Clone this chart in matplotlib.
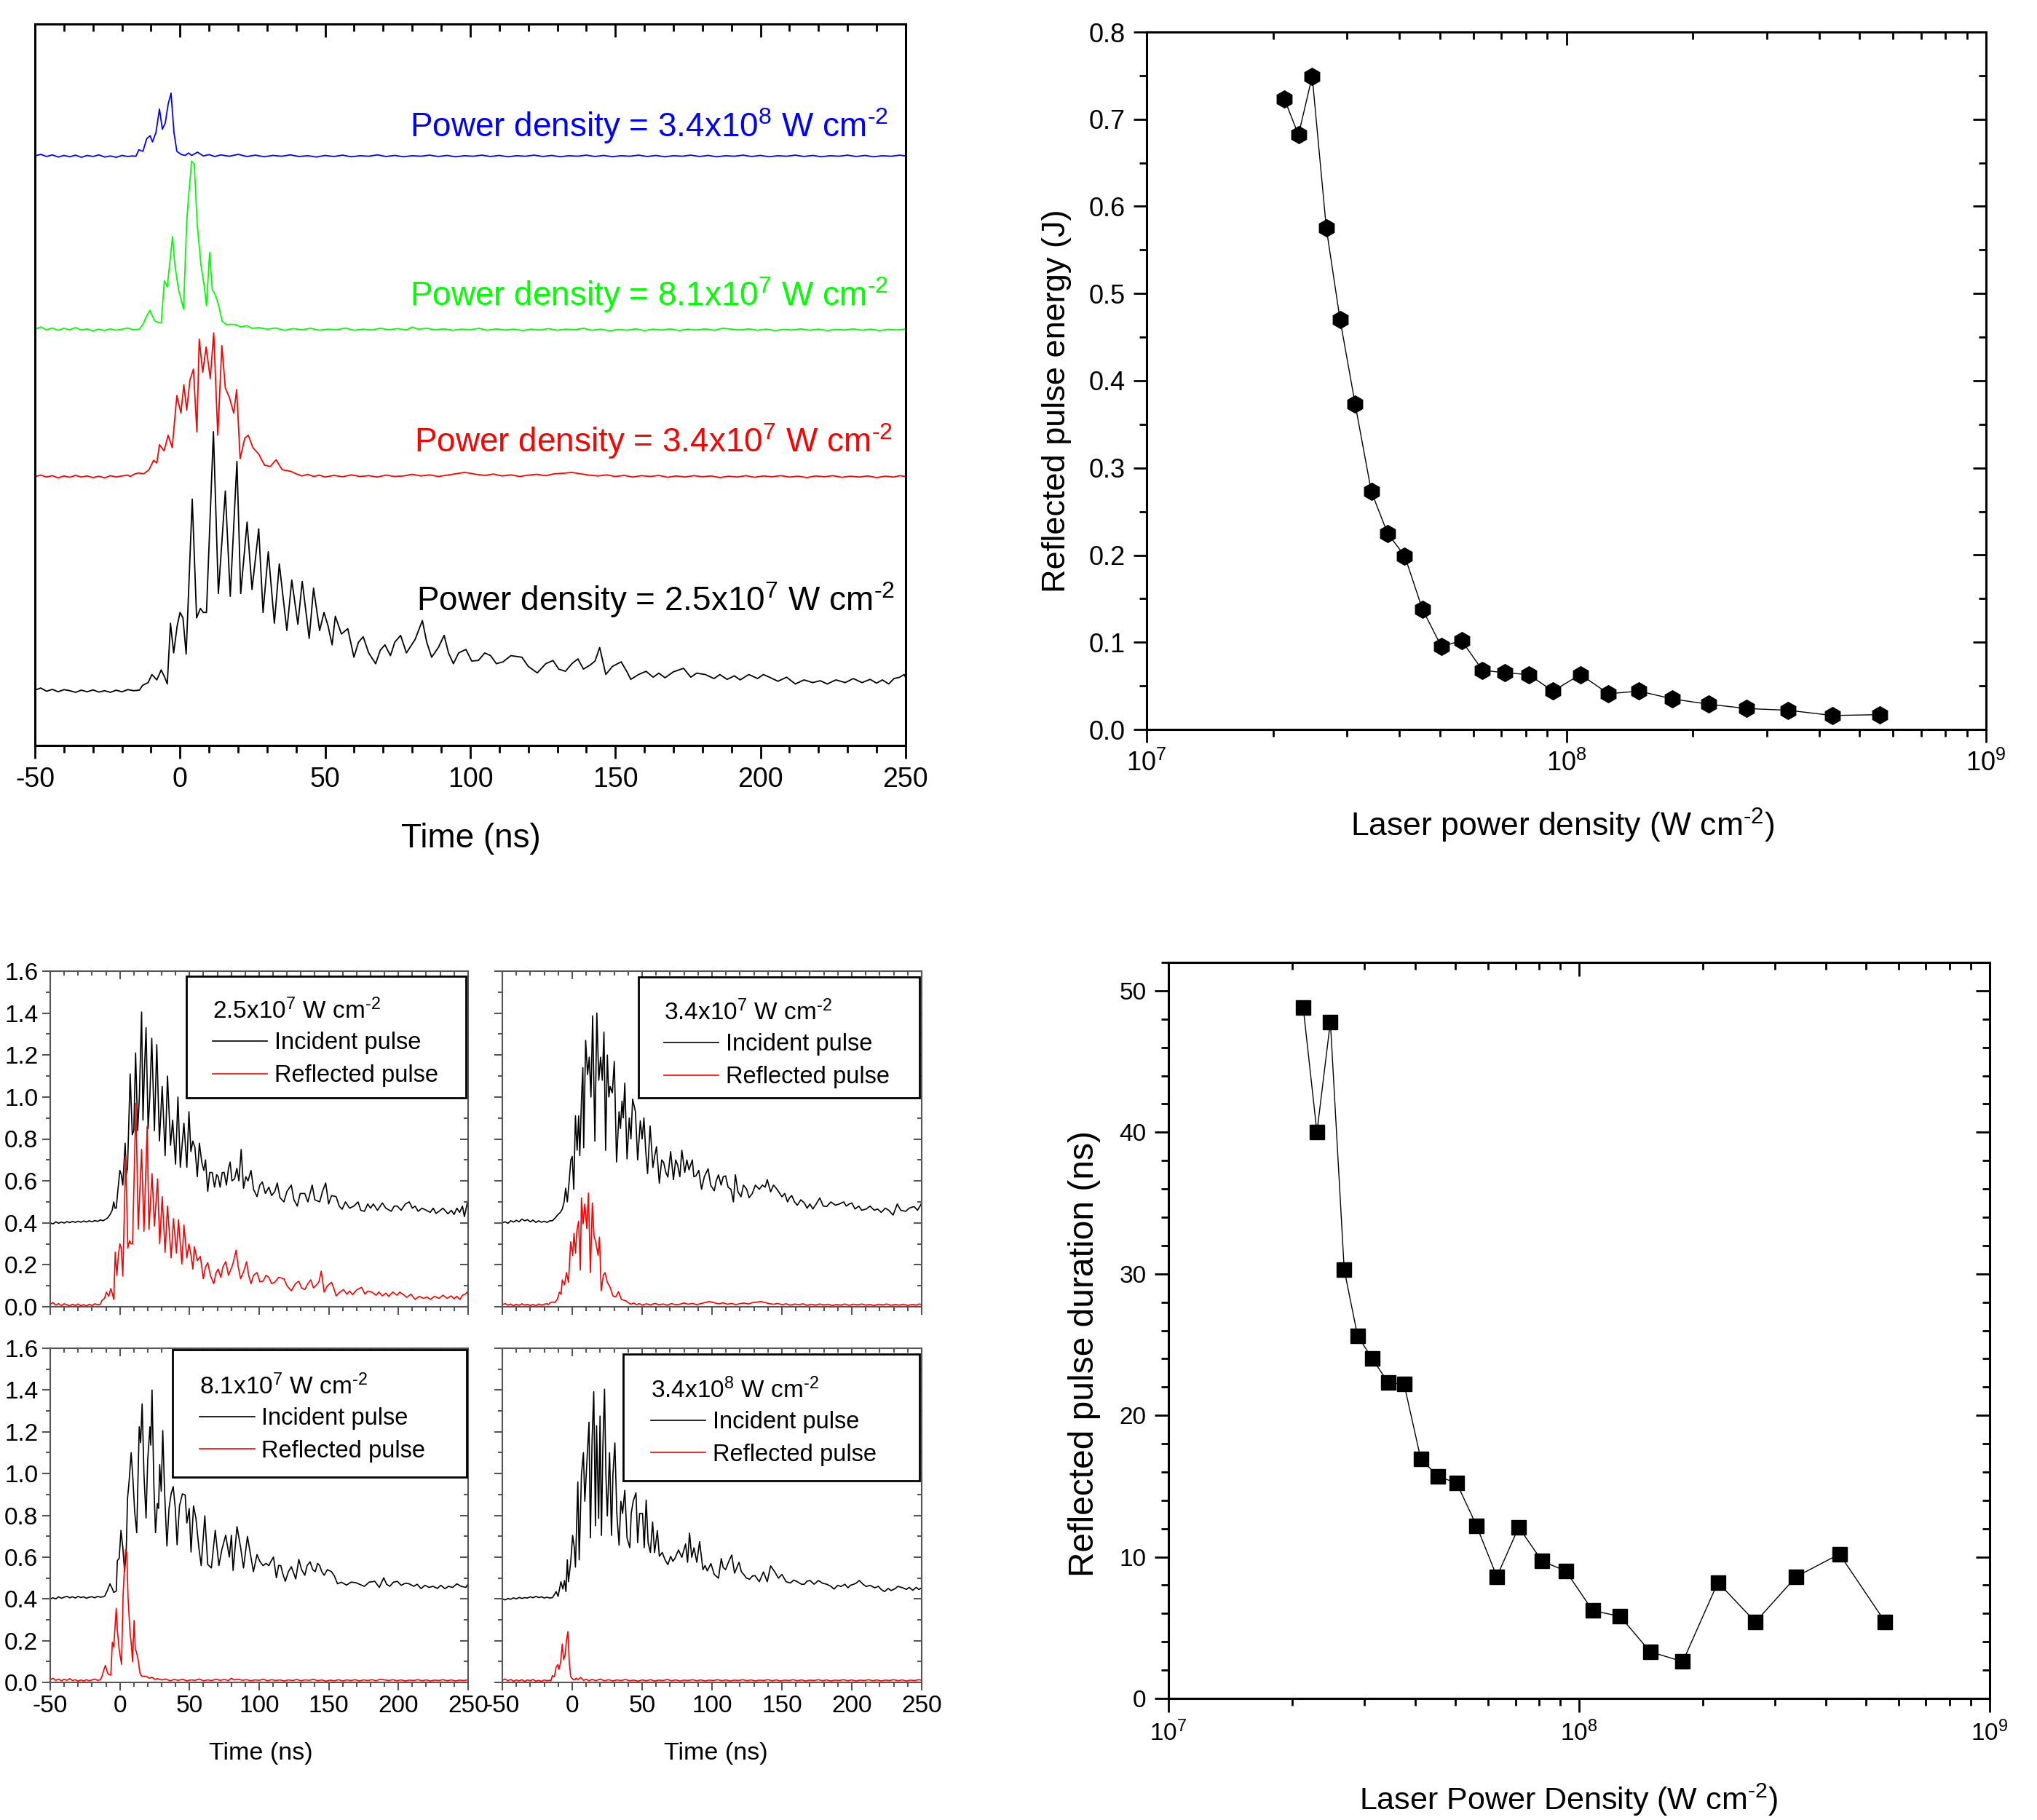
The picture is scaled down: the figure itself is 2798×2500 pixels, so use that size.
import matplotlib
matplotlib.use('Agg')
import matplotlib.pyplot as plt
from matplotlib.patches import Rectangle
from matplotlib.ticker import MultipleLocator, FormatStrFormatter, LogLocator, NullFormatter

plt.rcParams['font.family'] = ['Liberation Sans', 'DejaVu Sans']
plt.rcParams['mathtext.fontset'] = 'custom'
plt.rcParams['mathtext.rm'] = 'Liberation Sans'
plt.rcParams['mathtext.it'] = 'Liberation Sans:italic'
plt.rcParams['mathtext.bf'] = 'Liberation Sans:bold'
plt.rcParams['mathtext.default'] = 'regular'
plt.rcParams['axes.unicode_minus'] = False

# ---------------- data: right-hand panels ----------------
POWER_DENSITY = [2.13e7, 2.30e7, 2.48e7, 2.68e7, 2.89e7, 3.14e7, 3.43e7, 3.75e7, 4.12e7,
                 4.54e7, 5.04e7, 5.63e7, 6.31e7, 7.13e7, 8.13e7, 9.29e7, 1.08e8, 1.26e8,
                 1.49e8, 1.79e8, 2.18e8, 2.69e8, 3.38e8, 4.31e8, 5.57e8]
REFLECTED_ENERGY = [0.723, 0.682, 0.749, 0.575, 0.470, 0.373, 0.273, 0.225, 0.199, 0.138,
                    0.095, 0.102, 0.068, 0.065, 0.063, 0.044, 0.063, 0.041, 0.044, 0.035,
                    0.029, 0.024, 0.022, 0.016, 0.017]
REFLECTED_DURATION = [48.8, 40.0, 47.8, 30.3, 25.6, 24.0, 22.3, 22.2, 16.9, 15.7, 15.2, 12.2,
                      8.6, 12.1, 9.7, 9.0, 6.2, 5.8, 3.3, 2.6, 8.2, 5.4, 8.6, 10.2, 5.4]

# ---------------- data: pulse waveforms (time ns, signal) ----------------
P1_INC = [(-50,0.40),(-48,0.395),(-46,0.405),(-44,0.398),(-42,0.404),(-40,0.399),(-38,0.406),(-36,0.401),
(-34,0.407),(-32,0.402),(-30,0.408),(-28,0.403),(-26,0.409),(-24,0.404),(-22,0.41),(-20,0.405),(-18,0.411),
(-16,0.407),(-14,0.414),(-12,0.41),(-10,0.418),(-8.6,0.425),(-7,0.44),(-5.5,0.46),(-4.4,0.50),(-3.5,0.47),
(-2.6,0.47),(-1.5,0.55),(0,0.65),(1,0.63),(2.1,0.58),(3.8,0.78),(4.6,0.63),(5.5,0.66),(7.4,1.11),(8.9,0.82),
(10,0.84),(11.3,1.21),(12.8,0.84),(14,1.0),(15.6,1.405),(16.6,0.89),(17.5,1.1),(18.8,1.33),(20.3,0.85),
(21.5,1.0),(22.9,1.28),(24.8,0.84),(25.5,1.0),(26.5,1.25),(28.4,0.79),(30.4,1.05),(32.5,0.72),(34.2,1.10),
(36.4,0.77),(37.9,0.89),(40,0.68),(41.7,1.00),(43.4,0.665),(46,0.875),(48.1,0.665),(49.6,0.93),(51,0.74),
(52.4,0.79),(53.9,0.76),(55.6,0.62),(57.1,0.78),(58.8,0.69),(60.3,0.65),(61.5,0.70),(63.1,0.55),(64.5,0.64),
(66.3,0.64),(68,0.57),(69.5,0.63),(70.6,0.62),(72,0.57),(73.5,0.64),(74.9,0.64),(76.5,0.58),(78,0.66),
(79.2,0.69),(80.5,0.60),(82.4,0.61),(84,0.66),(85.5,0.60),(87.1,0.75),(88.8,0.565),(90.5,0.62),(92,0.60),
(94.2,0.65),(96,0.56),(98.5,0.525),(100.5,0.58),(102.3,0.595),(104.5,0.54),(107,0.57),(109,0.53),(111.3,0.55),
(113,0.59),(115,0.52),(117.8,0.50),(120,0.55),(123.1,0.58),(125,0.51),(127.4,0.48),(129.5,0.54),(132.8,0.54),
(135,0.50),(138.1,0.58),(140,0.51),(143.5,0.50),(145.5,0.55),(147.8,0.59),(149.9,0.49),(152,0.53),(155.3,0.525),
(157.5,0.48),(159.6,0.465),(162,0.50),(165,0.47),(168.1,0.48),(171,0.50),(173,0.46),(175.6,0.455),(178,0.49),
(180,0.47),(182,0.49),(185,0.46),(188.5,0.495),(191,0.47),(194.9,0.455),(197,0.48),(199.2,0.48),(202,0.46),
(205,0.49),(207.8,0.50),(210,0.47),(212,0.48),(214.2,0.455),(217,0.47),(220,0.46),(222.8,0.45),(225,0.47),
(227,0.445),(229.2,0.455),(232,0.47),(235.6,0.443),(238,0.46),(240,0.44),(242,0.47),(244,0.45),(246,0.48),
(247.4,0.43),(249.5,0.495),(250,0.48)]

P1_REF = [(-50,0.012),(-48,0.02),(-46,0.008),(-44,0.015),(-42,0.006),(-40,0.014),(-38,0.01),(-36,0.004),
(-34,0.012),(-32,0.006),(-30,0.013),(-28,0.005),(-26,0.01),(-24,0.004),(-22,0.012),(-20,0.006),(-18,0.014),
(-16,0.01),(-14,0.012),(-12.9,0.03),(-11,0.04),(-9.7,0.07),(-8,0.05),(-6.5,0.087),(-5.3,0.06),(-4.4,0.035),
(-3.3,0.26),(-2.2,0.15),(-1,0.25),(0,0.30),(1,0.28),(2.1,0.146),(4.2,0.72),(5.7,0.28),(7,0.315),(8,0.30),
(9.1,0.30),(11.5,0.97),(13.2,0.37),(15.6,0.75),(17.3,0.36),(19.6,0.86),(20.9,0.37),(23.1,0.635),(24.8,0.385),
(27.1,0.61),(28.6,0.30),(30.4,0.525),(32.5,0.26),(34.2,0.48),(36.8,0.233),(38.5,0.42),(40.6,0.256),(42.1,0.415),
(44.5,0.204),(46,0.39),(48.1,0.233),(49.6,0.30),(51,0.25),(52.4,0.18),(53.5,0.286),(55.6,0.22),(57.8,0.24),
(59.9,0.134),(61.5,0.19),(63.1,0.21),(65,0.15),(67.4,0.11),(69,0.16),(70.6,0.18),(72.5,0.14),(74,0.19),
(76,0.215),(78,0.15),(79.2,0.17),(81,0.20),(83.5,0.27),(85,0.19),(86.7,0.134),(89,0.17),(91,0.215),(92.5,0.15),
(94.2,0.11),(96,0.15),(98.5,0.163),(100.5,0.12),(102.8,0.122),(105,0.15),(107,0.14),(109,0.11),(111.3,0.117),
(114,0.14),(117.8,0.134),(120,0.10),(123.1,0.076),(126,0.11),(128.5,0.122),(130.5,0.09),(132.8,0.082),
(135,0.11),(137.1,0.128),(139,0.09),(141.3,0.105),(143,0.12),(144.6,0.17),(146.7,0.07),(149,0.10),(152,0.117),
(154,0.08),(155.3,0.052),(158,0.07),(160.6,0.082),(163,0.06),(165,0.075),(167.1,0.058),(170,0.08),(173.5,0.093),
(176,0.06),(178,0.075),(181,0.07),(184,0.055),(186,0.07),(188.5,0.052),(191,0.065),(193,0.05),(196,0.07),
(199,0.055),(201,0.07),(203.5,0.058),(206,0.045),(209,0.06),(212,0.035),(215,0.05),(218,0.04),(220.6,0.047),
(223,0.035),(226,0.05),(229.2,0.04),(232,0.055),(235,0.04),(237.8,0.052),(240,0.038),(242,0.05),(244.2,0.035),
(246,0.055),(248,0.06),(249.5,0.07),(250,0.06)]

P2_INC = [(-50,0.40),(-48,0.405),(-46,0.398),(-44,0.41),(-42,0.404),(-40,0.412),(-38,0.405),(-36,0.418),
(-34,0.41),(-32,0.415),(-30,0.405),(-28,0.413),(-26,0.402),(-24,0.41),(-22,0.403),(-20,0.408),(-18,0.402),
(-16,0.41),(-14.2,0.41),(-12,0.425),(-10.1,0.44),(-8.5,0.45),(-7.1,0.466),(-5.8,0.50),(-4.7,0.565),(-3.5,0.50),
(-2.1,0.606),(-1,0.70),(0,0.717),(1.1,0.56),(2.3,0.91),(3.5,0.746),(4.6,0.91),(5.4,0.72),(6.6,0.985),(7.6,1.14),
(8.2,0.758),(9.6,1.27),(11,1.107),(12.2,1.19),(13.4,1.0),(14.6,1.387),(16.2,0.79),(17.6,1.40),(19,1.08),
(20.3,1.19),(21.5,1.08),(22.7,1.31),(23.9,0.746),(25.1,1.2),(26.2,1.0),(27.1,1.05),(28.7,1.02),(30.1,1.17),
(31.7,0.69),(33.5,0.93),(34.5,0.85),(35.6,0.98),(36.5,0.90),(37.6,1.066),(39.2,0.705),(40.8,0.90),(42,0.80),
(43.2,0.99),(45.2,0.93),(46.8,0.70),(48.7,0.886),(50,0.80),(51.3,0.90),(52.5,0.75),(53.9,0.635),(55.7,0.862),
(57.7,0.664),(59,0.72),(60.3,0.763),(62.3,0.589),(64,0.70),(65.4,0.688),(67,0.64),(68.4,0.618),(70.4,0.74),
(72.4,0.606),(74,0.70),(75.4,0.676),(77,0.62),(78.4,0.746),(80.5,0.641),(82,0.70),(83.5,0.653),(85.9,0.70),
(87,0.62),(88.5,0.624),(90.5,0.65),(92.5,0.56),(94.5,0.62),(97.2,0.658),(99,0.58),(101.6,0.553),(103,0.60),
(104.6,0.629),(106.5,0.58),(108,0.62),(109.7,0.624),(111.5,0.57),(113.5,0.56),(115.3,0.50),(116.7,0.629),
(118.5,0.55),(120.7,0.524),(122.5,0.58),(124.8,0.56),(126.5,0.52),(128.8,0.54),(131,0.58),(133.8,0.56),
(136,0.58),(138,0.57),(139.5,0.606),(141.9,0.548),(144,0.58),(145.9,0.565),(148,0.545),(150,0.524),(152,0.54),
(154,0.50),(155.5,0.52),(157,0.53),(159,0.50),(161,0.484),(163.5,0.51),(166,0.495),(168,0.47),(170,0.49),
(172.1,0.466),(174.5,0.49),(177.1,0.519),(179.5,0.48),(182.1,0.478),(185,0.50),(188.2,0.484),(191,0.49),
(194.2,0.50),(196,0.48),(198.2,0.49),(200,0.495),(202.3,0.466),(205,0.48),(207,0.46),(210.3,0.466),(213,0.48),
(216,0.46),(218.4,0.466),(221,0.45),(224,0.47),(226.4,0.46),(229.5,0.437),(232.5,0.49),(235,0.46),(238.5,0.455),
(241,0.47),(244.5,0.478),(247,0.46),(250,0.495)]

P2_REF = [(-50,0.01),(-48,0.015),(-46,0.008),(-44,0.013),(-42,0.005),(-40,0.012),(-38,0.007),(-36,0.014),
(-34,0.008),(-32,0.012),(-30,0.006),(-28,0.011),(-26,0.005),(-24,0.013),(-22,0.008),(-20,0.012),(-18,0.015),
(-17.2,0.01),(-15.5,0.02),(-14.2,0.023),(-12.5,0.02),(-10.7,0.035),(-9.1,0.07),(-8,0.06),(-7.1,0.128),
(-5.5,0.105),(-4.1,0.163),(-2.7,0.117),(-1.1,0.31),(0.3,0.245),(1.3,0.35),(2.3,0.256),(3.4,0.367),(4.6,0.408),
(5.8,0.175),(6.6,0.519),(7.8,0.396),(9,0.49),(10.4,0.373),(11.6,0.542),(13,0.163),(14.4,0.495),(15.6,0.338),
(17,0.303),(18.5,0.245),(19.5,0.332),(20.7,0.076),(22.3,0.152),(23.5,0.163),(25.1,0.117),(27.1,0.093),
(29.1,0.052),(31.1,0.047),(33.1,0.072),(35.2,0.035),(38.2,0.029),(40,0.02),(42,0.012),(44,0.018),(46,0.01),
(48,0.015),(50,0.008),(53,0.014),(56,0.009),(59,0.016),(62,0.01),(65,0.013),(68,0.008),(71,0.015),(74,0.01),
(77,0.012),(80,0.018),(83,0.012),(86,0.016),(89,0.01),(92,0.015),(95,0.02),(98,0.025),(100,0.022),(102,0.018),
(105,0.014),(108,0.019),(111,0.012),(114,0.016),(117,0.01),(120,0.015),(123,0.018),(126,0.013),(129,0.02),
(132,0.022),(135,0.025),(138,0.02),(141,0.015),(144,0.012),(147,0.016),(150,0.01),(153,0.014),(156,0.008),
(159,0.013),(162,0.01),(165,0.014),(168,0.007),(171,0.012),(174,0.008),(177,0.013),(180,0.009),(183,0.012),
(186,0.006),(189,0.011),(192,0.008),(195,0.013),(198,0.007),(201,0.012),(204,0.009),(207,0.013),(210,0.008),
(213,0.011),(216,0.006),(219,0.012),(222,0.009),(225,0.013),(228,0.007),(231,0.011),(234,0.008),(237,0.012),
(240,0.006),(243,0.011),(246,0.008),(248,0.013),(250,0.01)]

P3_INC = [(-50,0.40),(-48,0.405),(-46,0.40),(-44,0.41),(-42,0.403),(-40,0.408),(-38,0.412),(-36,0.405),
(-34,0.41),(-32,0.404),(-30,0.412),(-28,0.406),(-26,0.41),(-24,0.403),(-22,0.408),(-20,0.41),(-18,0.405),
(-16,0.412),(-14,0.408),(-12,0.41),(-10.8,0.414),(-9,0.44),(-7.1,0.472),(-5.5,0.45),(-4.4,0.431),(-2.6,0.437),
(-1.8,0.583),(-0.5,0.594),(0.8,0.728),(2.1,0.647),(3.4,0.53),(4.6,0.635),(5.5,0.88),(6.6,0.96),(8.1,1.10),
(9.4,0.973),(10.6,0.82),(12.1,0.717),(13.9,1.224),(14.9,1.148),(16,1.334),(17.3,0.997),(18.8,0.787),(20,1.066),
(21.6,1.224),(22.2,1.136),(23.1,1.40),(24.4,0.95),(25.6,0.717),(26.9,0.857),(27.8,0.833),(28.6,1.043),
(29.7,0.915),(30.8,1.206),(32.1,0.915),(33.8,0.653),(35.3,0.833),(36.8,0.903),(38.3,0.938),(39.8,0.833),
(41.1,0.659),(42.8,0.845),(44.9,0.903),(46.9,0.897),(48.1,0.763),(49.8,0.833),(51.1,0.624),(52.9,0.845),
(54.6,0.787),(56.7,0.647),(58.4,0.559),(61,0.798),(63.1,0.565),(65.7,0.548),(68.5,0.728),(71.1,0.559),
(73.2,0.635),(76,0.705),(78.6,0.60),(80.1,0.705),(81.3,0.536),(84.1,0.746),(86.7,0.647),(88.8,0.548),
(91.6,0.699),(93.8,0.612),(95.9,0.53),(98.5,0.612),(100.5,0.58),(102.8,0.559),(105,0.57),(107,0.559),
(108.5,0.58),(110.3,0.60),(112.4,0.501),(114,0.56),(115.6,0.559),(117,0.52),(118.8,0.484),(121,0.53),
(123.1,0.554),(125,0.52),(126.3,0.495),(128.5,0.589),(130.5,0.54),(132.8,0.513),(134.5,0.56),(136.6,0.577),
(138.5,0.54),(140.3,0.53),(142,0.57),(143.5,0.559),(145,0.53),(146.7,0.513),(149,0.54),(152,0.53),(154,0.51),
(156.3,0.472),(159,0.48),(162.8,0.466),(166,0.48),(169.2,0.478),(172,0.47),(175.6,0.46),(179,0.48),
(183.1,0.484),(186.3,0.455),(189.5,0.501),(191.5,0.47),(193.8,0.46),(196.5,0.48),(199.2,0.484),(202,0.465),
(205,0.475),(207.8,0.472),(211,0.46),(213.5,0.47),(216.3,0.449),(219,0.465),(222,0.455),(224.9,0.46),
(228,0.45),(230.5,0.465),(233.4,0.449),(236,0.46),(239,0.455),(242,0.472),(245,0.46),(248.5,0.455),(250,0.472)]

P3_REF = [(-50,0.012),(-48,0.02),(-46,0.01),(-44,0.016),(-42,0.008),(-40,0.015),(-38,0.01),(-36,0.018),
(-34,0.009),(-32,0.013),(-30,0.006),(-28,0.012),(-26,0.007),(-24,0.013),(-22,0.008),(-20,0.012),(-18,0.016),
(-16,0.01),(-14,0.012),(-12.8,0.03),(-11.9,0.052),(-10.4,0.082),(-9.5,0.06),(-8.6,0.041),(-6.5,0.035),
(-5.4,0.192),(-4.4,0.169),(-2.6,0.355),(-1.8,0.25),(-0.5,0.157),(1.2,0.087),(2.3,0.414),(3.1,0.524),(4,0.635),
(4.9,0.624),(5.9,0.402),(7.2,0.25),(8.3,0.175),(9.1,0.099),(10.2,0.297),(11.1,0.157),(11.9,0.146),(13.2,0.105),
(14.5,0.041),(16,0.029),(17.5,0.03),(19.2,0.029),(21,0.02),(23,0.025),(25,0.015),(27,0.018),(30,0.012),
(33,0.016),(36,0.008),(39,0.014),(42,0.01),(45,0.015),(48,0.008),(51,0.012),(54,0.01),(57,0.016),(60,0.008),
(63,0.012),(66,0.009),(69,0.015),(72,0.01),(75,0.014),(78,0.009),(80,0.02),(82,0.012),(85,0.015),(88,0.01),
(91,0.013),(94,0.008),(97,0.012),(100,0.01),(103,0.015),(106,0.008),(109,0.013),(112,0.009),(115,0.012),
(118,0.007),(121,0.012),(124,0.009),(127,0.014),(130,0.008),(133,0.012),(136,0.01),(139,0.015),(142,0.008),
(145,0.012),(148,0.006),(151,0.011),(154,0.008),(157,0.013),(160,0.007),(163,0.012),(166,0.009),(169,0.013),
(172,0.007),(175,0.012),(178,0.009),(181,0.013),(184,0.008),(187,0.015),(190,0.012),(193,0.009),(196,0.013),
(199,0.008),(202,0.012),(205,0.007),(208,0.011),(211,0.009),(214,0.013),(217,0.008),(220,0.012),(223,0.007),
(226,0.011),(229,0.009),(232,0.013),(235,0.008),(238,0.012),(241,0.007),(244,0.011),(247,0.009),(250,0.012)]

P4_INC = [(-50,0.40),(-48,0.395),(-46,0.402),(-44,0.398),(-42,0.405),(-40,0.40),(-38,0.407),(-36,0.402),
(-34,0.406),(-32,0.404),(-30,0.41),(-28,0.405),(-26,0.412),(-24,0.406),(-22,0.41),(-20,0.404),(-18,0.408),
(-16,0.404),(-14.2,0.406),(-12.8,0.42),(-11.5,0.435),(-10.1,0.412),(-8.1,0.482),(-6.7,0.447),(-5.5,0.488),
(-4.5,0.435),(-3.5,0.587),(-2.7,0.482),(-1.1,0.575),(0.3,0.704),(1.5,0.645),(2.3,0.552),(4,0.96),(5,0.587),
(6.6,0.995),(8,1.10),(9,0.867),(10.4,1.042),(12,1.246),(13,0.692),(14.2,1.159),(15.4,1.392),(16.6,0.75),
(17.4,1.229),(18.9,0.785),(19.9,1.275),(20.9,0.704),(21.9,1.124),(23.1,1.404),(24.1,0.995),(25.1,0.797),
(26.7,1.10),(28.1,0.704),(29.1,0.995),(30.5,1.147),(31.9,0.809),(33.5,0.657),(34.8,0.867),(36,0.809),
(37.6,0.92),(39.2,0.692),(41.2,0.645),(42.2,0.809),(43.6,0.867),(45.6,0.908),(46.8,0.669),(48.2,0.809),
(50.3,0.809),(51.5,0.645),(52.9,0.873),(54.3,0.669),(55.9,0.622),(57.5,0.768),(58.9,0.622),(60.9,0.727),
(62.3,0.604),(64.4,0.622),(66.4,0.587),(68.4,0.564),(70.4,0.604),(72,0.58),(73.4,0.593),(76,0.634),
(78.4,0.599),(81.1,0.663),(82.5,0.575),(83.9,0.715),(85.5,0.599),(87.1,0.645),(89.1,0.575),(91.1,0.674),
(93.5,0.54),(95,0.56),(96.6,0.534),(99.2,0.569),(101.6,0.517),(104.6,0.499),(106.6,0.593),(108,0.55),
(109.7,0.54),(112.1,0.581),(114.1,0.61),(116.1,0.523),(119.3,0.575),(121,0.53),(122.7,0.517),(124.5,0.50),
(126.8,0.494),(129,0.51),(130.8,0.511),(133.8,0.482),(136.8,0.529),(139.5,0.482),(141.9,0.558),(144.9,0.529),
(147.5,0.499),(150,0.517),(153,0.482),(156,0.476),(158.5,0.49),(161,0.482),(164,0.47),(166,0.47),(168,0.485),
(170.1,0.488),(173,0.47),(176.1,0.488),(179,0.475),(182.1,0.47),(185,0.46),(187.2,0.447),(190,0.465),
(192.2,0.459),(195,0.47),(197.2,0.453),(199,0.465),(201.3,0.47),(203,0.475),(205.3,0.488),(208,0.47),
(210.3,0.459),(213,0.465),(216.4,0.453),(219,0.46),(221,0.445),(223.4,0.435),(226,0.45),(228,0.44),
(230.5,0.447),(233,0.46),(236.5,0.453),(239,0.445),(241,0.455),(243.6,0.441),(246,0.455),(248,0.445),(250,0.453)]

P4_REF = [(-50,0.01),(-48,0.016),(-46,0.008),(-44,0.014),(-42,0.006),(-40,0.012),(-38,0.007),(-36,0.013),
(-34,0.005),(-32,0.012),(-30,0.008),(-28,0.014),(-26,0.006),(-24,0.01),(-22,0.005),(-20,0.012),(-18,0.008),
(-16.5,0.01),(-15.2,0.009),(-14.2,0.033),(-12.8,0.027),(-11.5,0.074),(-10.3,0.085),(-9.5,0.062),(-8.3,0.097),
(-7.1,0.184),(-6.1,0.109),(-5.1,0.132),(-4.1,0.202),(-3.1,0.243),(-2.1,0.097),(-1.1,0.027),(0.5,0.015),
(1.8,0.012),(2.9,0.021),(4,0.012),(6,0.024),(8,0.01),(10,0.015),(12,0.008),(14,0.014),(17,0.009),(20,0.016),
(23,0.008),(26,0.013),(29,0.007),(32,0.012),(35,0.009),(38,0.014),(41,0.008),(44,0.011),(47,0.006),(50,0.012),
(53,0.008),(56,0.013),(59,0.007),(62,0.011),(65,0.009),(68,0.014),(71,0.008),(74,0.012),(77,0.007),(80,0.011),
(83,0.009),(86,0.013),(89,0.008),(92,0.012),(95,0.007),(98,0.011),(101,0.009),(104,0.013),(107,0.008),
(110,0.012),(113,0.007),(116,0.011),(119,0.009),(122,0.013),(125,0.008),(128,0.012),(131,0.007),(134,0.011),
(137,0.009),(140,0.013),(143,0.008),(146,0.012),(149,0.007),(152,0.011),(155,0.009),(158,0.013),(161,0.008),
(164,0.012),(167,0.007),(170,0.011),(173,0.009),(176,0.013),(179,0.008),(182,0.012),(185,0.007),(188,0.011),
(191,0.009),(194,0.013),(197,0.008),(200,0.012),(203,0.007),(206,0.011),(209,0.009),(212,0.013),(215,0.008),
(218,0.012),(221,0.007),(224,0.011),(227,0.009),(230,0.013),(233,0.008),(236,0.012),(239,0.007),(242,0.011),
(245,0.009),(248,0.013),(250,0.01)]

SUP = r'$^{\text{-}2}$'
PANEL_LABELS = [r'2.5x10$^{7}$ W cm' + SUP, r'3.4x10$^{7}$ W cm' + SUP,
                r'8.1x10$^{7}$ W cm' + SUP, r'3.4x10$^{8}$ W cm' + SUP]
SERIES_NAMES = ['Incident pulse', 'Reflected pulse']
TL_LABELS = [r'Power density = 2.5x10$^{7}$ W cm' + SUP, r'Power density = 3.4x10$^{7}$ W cm' + SUP,
             r'Power density = 8.1x10$^{7}$ W cm' + SUP, r'Power density = 3.4x10$^{8}$ W cm' + SUP]

# ---------------- figure ----------------
fig = plt.figure(figsize=(27.98, 25.0), dpi=100)


def split(tr):
    return [p[0] for p in tr], [p[1] for p in tr]


def mirror_ticks(ax, xmaj, xmin, ymaj=None, ymin=None, maj_len=13, min_len=7, width=2.0,
                 color='black', log=False):
    sx = ax.secondary_xaxis('top')
    if log:
        sx.xaxis.set_major_locator(LogLocator(base=10))
        sx.xaxis.set_minor_locator(LogLocator(base=10, subs=[2, 3, 4, 5, 6, 7, 8, 9]))
    else:
        sx.xaxis.set_major_locator(MultipleLocator(xmaj))
        sx.xaxis.set_minor_locator(MultipleLocator(xmin))
    sx.tick_params(which='both', direction='in', labeltop=False, width=width, color=color)
    sx.tick_params(which='major', length=maj_len)
    sx.tick_params(which='minor', length=min_len)
    sx.spines['top'].set_visible(False)
    if ymaj is not None:
        sy = ax.secondary_yaxis('right')
        sy.yaxis.set_major_locator(MultipleLocator(ymaj))
        sy.yaxis.set_minor_locator(MultipleLocator(ymin))
        sy.tick_params(which='both', direction='in', labelright=False, width=width, color=color)
        sy.tick_params(which='major', length=maj_len)
        sy.tick_params(which='minor', length=min_len)
        sy.spines['right'].set_visible(False)


# ---- top-left: reflected pulses for four power densities (stacked) ----
axTL = fig.add_axes([0.01716, 0.5904, 0.4274, 0.3964])
TL_OFFSETS = [0.193, 0.987, 1.531, 2.175]
TL_COLORS = ['black', '#FF0000', '#00FF00', '#0000FF']
TL_TEXT_Y = [0.187, 0.407, 0.609, 0.844]
TL_TEXT_X = [0.438, 0.436, 0.431, 0.431]
for tr, off, col, lab, tx, ty in zip([P1_REF, P2_REF, P3_REF, P4_REF], TL_OFFSETS, TL_COLORS,
                                     TL_LABELS, TL_TEXT_X, TL_TEXT_Y):
    t, v = split(tr)
    axTL.plot(t, [off + x for x in v], color=col, lw=1.3)
    axTL.text(tx, ty, lab, color=col, fontsize=33, transform=axTL.transAxes,
              ha='left', va='baseline')
axTL.set_xlim(-50, 250)
axTL.set_ylim(0, 2.674)
axTL.set_yticks([])
axTL.xaxis.set_major_locator(MultipleLocator(50))
axTL.xaxis.set_minor_locator(MultipleLocator(10))
axTL.tick_params(axis='x', which='both', direction='out', top=False, width=2.0, labelsize=27, pad=8)
axTL.tick_params(axis='x', which='major', length=13)
axTL.tick_params(axis='x', which='minor', length=7)
for s in axTL.spines.values():
    s.set_linewidth(2.2)
mirror_ticks(axTL, 50, 10)
fig.text(0.2312, 0.5392, 'Time (ns)', ha='center', va='center', fontsize=33)

# ---- top-right: reflected pulse energy ----
axTR = fig.add_axes([0.5629, 0.5992, 0.4121, 0.3832])
axTR.set_xscale('log')
axTR.plot(POWER_DENSITY, REFLECTED_ENERGY, color='black', lw=1.0, marker='h',
          markersize=17, markerfacecolor='black', markeredgecolor='black')
axTR.set_xlim(1e7, 1e9)
axTR.set_ylim(0, 0.8)
axTR.yaxis.set_major_locator(MultipleLocator(0.1))
axTR.yaxis.set_minor_locator(MultipleLocator(0.05))
axTR.yaxis.set_major_formatter(FormatStrFormatter('%.1f'))
axTR.xaxis.set_major_locator(LogLocator(base=10))
axTR.xaxis.set_minor_locator(LogLocator(base=10, subs=[2, 3, 4, 5, 6, 7, 8, 9]))
axTR.xaxis.set_minor_formatter(NullFormatter())
axTR.tick_params(which='both', direction='out', top=False, right=False, width=2.0, labelsize=26, pad=8)
axTR.tick_params(which='major', length=13)
axTR.tick_params(which='minor', length=7)
for s in axTR.spines.values():
    s.set_linewidth(2.2)
mirror_ticks(axTR, None, None, 0.1, 0.05, log=True)
fig.text(0.5186, 0.7796, 'Reflected pulse energy (J)', rotation=90, ha='center', va='center', fontsize=32.5)
fig.text(0.767, 0.5464, r'Laser power density (W cm' + SUP + ')', ha='center', va='center', fontsize=32)

# ---- bottom-left: 2x2 incident / reflected pulses ----
PANEL_RECTS = [[0.02466, 0.2820, 0.2051, 0.1844], [0.2466, 0.2820, 0.2059, 0.1844],
               [0.02466, 0.0756, 0.2051, 0.1836], [0.2466, 0.0756, 0.2059, 0.1836]]
# legend content anchor (axes fraction) and legend frame box (x0, y0, x1, y1) in axes fraction
LEG_ANCHORS = [(0.388, 0.918), (0.386, 0.914), (0.358, 0.923), (0.354, 0.912)]
LEG_BOXES = [(0.326, 0.623, 0.995, 0.985), (0.324, 0.623, 0.994, 0.983),
             (0.293, 0.615, 0.996, 0.996), (0.288, 0.604, 0.994, 0.983)]
GRAY = '#555555'
for i, (rect, inc, ref, title, anc, box) in enumerate(zip(PANEL_RECTS, [P1_INC, P2_INC, P3_INC, P4_INC],
                                                         [P1_REF, P2_REF, P3_REF, P4_REF], PANEL_LABELS,
                                                         LEG_ANCHORS, LEG_BOXES)):
    ax = fig.add_axes(rect)
    ti, vi = split(inc)
    tr_, vr = split(ref)
    l1, = ax.plot(ti, vi, color='black', lw=1.2)
    l2, = ax.plot(tr_, vr, color='#FF0000', lw=1.2)
    ax.set_xlim(-50, 250)
    ax.set_ylim(0, 1.6)
    ax.xaxis.set_major_locator(MultipleLocator(50))
    ax.xaxis.set_minor_locator(MultipleLocator(10))
    ax.yaxis.set_major_locator(MultipleLocator(0.2))
    ax.yaxis.set_minor_locator(MultipleLocator(0.1))
    ax.yaxis.set_major_formatter(FormatStrFormatter('%.1f'))
    ax.tick_params(which='both', direction='out', top=False, right=False, width=1.5, color=GRAY,
                   labelsize=24, pad=4)
    ax.tick_params(which='major', length=8)
    ax.tick_params(which='minor', length=4)
    if i in (1, 3):
        ax.tick_params(labelleft=False)
    if i in (0, 1):
        ax.tick_params(labelbottom=False)
    for s in ax.spines.values():
        s.set_linewidth(1.5)
        s.set_color(GRAY)
    mirror_ticks(ax, 50, 10, 0.2, 0.1, maj_len=8, min_len=4, width=1.5, color=GRAY)
    ax.add_patch(Rectangle((box[0], box[1]), box[2] - box[0], box[3] - box[1], transform=ax.transAxes,
                           fill=True, facecolor='white', edgecolor='black', lw=2.0, zorder=4,
                           clip_on=False))
    leg = ax.legend([l1, l2], SERIES_NAMES, title=title, loc='upper left', bbox_to_anchor=anc,
                    frameon=False, alignment='left',
                    fontsize=23.5, title_fontsize=24, handlelength=2.3, handletextpad=0.3,
                    borderpad=0.0, labelspacing=0.42, borderaxespad=0)
    leg.set_zorder(6)
    leg._legend_box.sep = 8
fig.text(0.128, 0.0368, 'Time (ns)', ha='center', va='center', fontsize=24.5)
fig.text(0.3513, 0.0368, 'Time (ns)', ha='center', va='center', fontsize=24.5)

# ---- bottom-right: reflected pulse duration ----
axBR = fig.add_axes([0.5736, 0.0668, 0.4031, 0.4044])
axBR.set_xscale('log')
axBR.plot(POWER_DENSITY, REFLECTED_DURATION, color='black', lw=1.0, marker='s',
          markersize=14, markerfacecolor='black', markeredgecolor='black')
axBR.set_xlim(1e7, 1e9)
axBR.set_ylim(0, 52)
axBR.yaxis.set_major_locator(MultipleLocator(10))
axBR.yaxis.set_minor_locator(MultipleLocator(2))
axBR.xaxis.set_major_locator(LogLocator(base=10))
axBR.xaxis.set_minor_locator(LogLocator(base=10, subs=[2, 3, 4, 5, 6, 7, 8, 9]))
axBR.xaxis.set_minor_formatter(NullFormatter())
axBR.tick_params(which='both', direction='out', top=False, right=False, width=2.0, labelsize=24, pad=8)
axBR.tick_params(which='major', length=14)
axBR.tick_params(which='minor', length=7)
for s in axBR.spines.values():
    s.set_linewidth(2.2)
mirror_ticks(axBR, None, None, 10, 2, maj_len=14, log=True)
fig.text(0.5322, 0.2564, 'Reflected pulse duration (ns)', rotation=90, ha='center', va='center', fontsize=34.5)
fig.text(0.7698, 0.011, r'Laser Power Density (W cm' + SUP + ')', ha='center', va='center', fontsize=31)

fig.savefig('out.png', dpi=100)
